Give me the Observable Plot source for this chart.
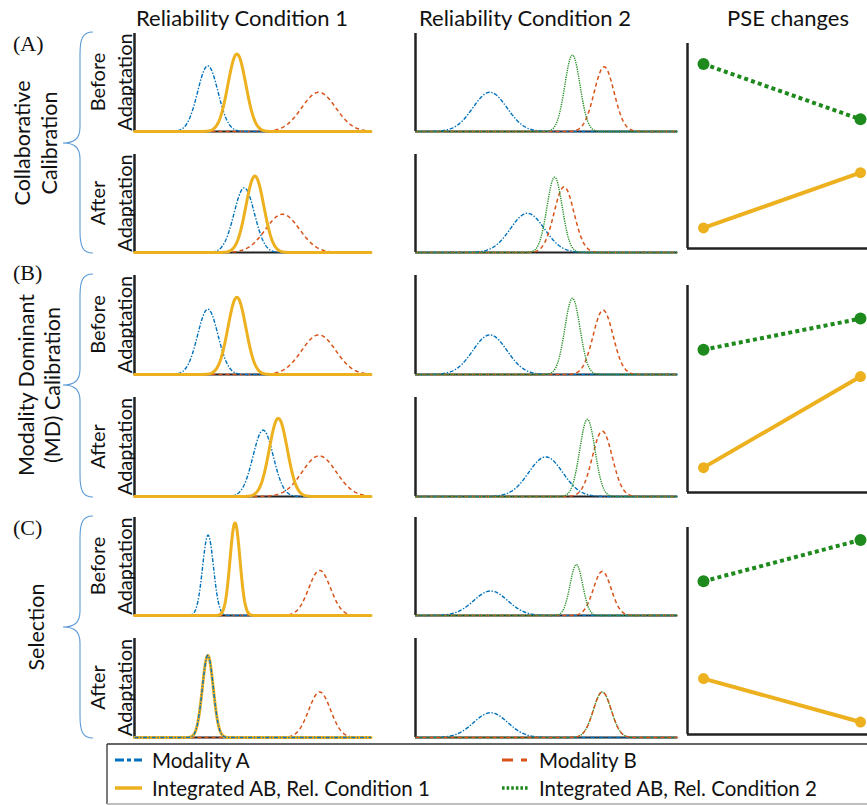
<!DOCTYPE html>
<html>
<head>
<meta charset="utf-8">
<script src="https://cdn.jsdelivr.net/npm/d3@7"></script>
<script src="https://cdn.jsdelivr.net/npm/@observablehq/plot@0.6"></script>
<style>
  html, body { margin: 0; padding: 0; background: #fff; }
  #fig { position: relative; width: 867px; height: 805px; overflow: hidden; background: #fff; }
  #fig svg { position: absolute; }
</style>
</head>
<body>
<div id="fig"></div>
<script>
// ---------------- DATA ----------------
// Panel rows: (A) before, (A) after, (B) before, (B) after, (C) before, (C) after
const panelRows = ["A-before", "A-after", "B-before", "B-after", "C-before", "C-after"];

// Reliability Condition 1 (x in % of panel width, peak in fraction of panel height)
const rc1ModA_mu   = [31.0, 46.4, 31.0, 54.4, 31.1, 31.0];
const rc1ModA_sd   = [4.3, 4.3, 4.3, 4.3, 2.3, 2.3];
const rc1ModA_peak = [0.67, 0.66, 0.66, 0.67, 0.82, 0.83];
const rc1ModB_mu   = [77.9, 62.6, 77.9, 78.1, 78.3, 78.3];
const rc1ModB_sd   = [7.2, 7.2, 7.2, 7.2, 4.6, 4.6];
const rc1ModB_peak = [0.40, 0.39, 0.40, 0.41, 0.46, 0.46];
const rc1Int_mu    = [43.3, 50.9, 43.3, 60.8, 42.5, 31.0];
const rc1Int_sd    = [3.8, 3.8, 3.8, 3.8, 2.1, 2.3];
const rc1Int_peak  = [0.79, 0.78, 0.78, 0.79, 0.945, 0.83];

// Reliability Condition 2
const rc2ModA_mu   = [28.4, 42.7, 28.4, 49.7, 28.7, 28.7];
const rc2ModA_sd   = [6.5, 6.5, 6.5, 6.5, 6.5, 6.5];
const rc2ModA_peak = [0.40, 0.40, 0.40, 0.40, 0.25, 0.25];
const rc2ModB_mu   = [72.0, 56.7, 71.6, 71.3, 71.3, 71.3];
const rc2ModB_sd   = [3.8, 3.8, 3.8, 3.8, 3.4, 3.4];
const rc2ModB_peak = [0.66, 0.67, 0.65, 0.66, 0.45, 0.46];
const rc2Int_mu    = [59.9, 53.1, 59.9, 65.6, 61.4, 71.3];
const rc2Int_sd    = [2.9, 2.9, 2.9, 2.9, 2.4, 3.4];
const rc2Int_peak  = [0.78, 0.77, 0.77, 0.78, 0.52, 0.46];

// PSE changes, panels (A), (B), (C): value before / after (fraction of axis height)
const pseGroups     = ["A", "B", "C"];
const pseStages     = ["Before", "After"];
const pseRC1_before = [0.10, 0.12, 0.27];
const pseRC1_after  = [0.37, 0.56, 0.06];
const pseRC2_before = [0.90, 0.69, 0.74];
const pseRC2_after  = [0.63, 0.84, 0.94];

// Text
const columnTitles = ["Reliability Condition 1", "Reliability Condition 2", "PSE changes"];
const groupLetters = ["(A)", "(B)", "(C)"];
const groupNames   = [["Collaborative", "Calibration"], ["Modality Dominant", "(MD) Calibration"], ["Selection"]];
const stageNames   = ["Before", "After"];
const legendLabels = ["Modality A", "Modality B", "Integrated AB, Rel. Condition 1", "Integrated AB, Rel. Condition 2"];

// ---------------- STYLE / LAYOUT ----------------
const C_A = "#0072BD", C_B = "#D95319", C_I1 = "#EDB120", C_I2 = "#1E8A1E", C_AX = "#222";
const butt = {strokeLinecap: "butt", strokeLinejoin: "round"};
const styleA  = {stroke: C_A, strokeWidth: 1.4, strokeDasharray: "4,1.6,1.4,1.6", ...butt};
const styleB  = {stroke: C_B, strokeWidth: 1.5, strokeDasharray: "4,3", ...butt};
const styleI1 = {stroke: C_I1, strokeWidth: 3};
const styleI2 = {stroke: "#2A922A", strokeWidth: 1.4, strokeDasharray: "1.3,1", ...butt};

const panelTops    = [33, 154, 275, 397, 517, 638];
const panelBottoms = [131, 252, 374, 496, 615, 737];
const col1 = {axis: 133.5, right: 370, tick: true};
const col2 = {axis: 415, right: 677, tick: false};
const pseCol = {axis: 687, x0: 703, x1: 860};
const pseTops = [43, 285, 527], pseBottoms = [248, 492, 734];

const fig = document.getElementById("fig");

function curve(mu, sd, peak) {
  return d3.range(0, 100.001, 0.25).map(x => ({x, y: peak * Math.exp(-((x - mu) ** 2) / (2 * sd * sd))}));
}

function gaussPanel(col, i, curves) {
  const mt = 3, mb = 3, ml = 6, mr = 1;
  const h = panelBottoms[i] - panelTops[i];
  const w = col.right - col.axis;
  const unit = w / 100;
  const marks = [
    Plot.ruleY([{y: 0, x1: 0, x2: 100}], {y: "y", x1: "x1", x2: "x2", stroke: C_AX, strokeWidth: 2}),
    Plot.ruleX([{x: 0, y1: 0, y2: 1}], {x: "x", y1: "y1", y2: "y2", stroke: C_AX, strokeWidth: 2.5})
  ];
  if (col.tick) marks.push(Plot.ruleY([{y: 0.43, x1: -5 / unit, x2: 0}], {y: "y", x1: "x1", x2: "x2", stroke: C_AX, strokeWidth: 1.2}));
  for (const c of curves) marks.push(Plot.line(curve(c.mu, c.sd, c.peak), {x: "x", y: "y", ...c.style}));
  const svg = Plot.plot({
    width: ml + w + mr, height: mt + h + mb,
    marginLeft: ml, marginRight: mr, marginTop: mt, marginBottom: mb,
    x: {domain: [0, 100], axis: null},
    y: {domain: [0, 1], axis: null},
    style: {background: "transparent", overflow: "visible"},
    marks
  });
  svg.style.left = (col.axis - ml) + "px";
  svg.style.top = (panelTops[i] - mt) + "px";
  fig.appendChild(svg);
}

for (let i = 0; i < panelRows.length; i++) {
  const a = {mu: rc1ModA_mu[i], sd: rc1ModA_sd[i], peak: rc1ModA_peak[i], style: styleA};
  const b = {mu: rc1ModB_mu[i], sd: rc1ModB_sd[i], peak: rc1ModB_peak[i], style: styleB};
  const n = {mu: rc1Int_mu[i], sd: rc1Int_sd[i], peak: rc1Int_peak[i], style: styleI1};
  gaussPanel(col1, i, n.mu === a.mu ? [b, n, a] : [b, a, n]);

  const a2 = {mu: rc2ModA_mu[i], sd: rc2ModA_sd[i], peak: rc2ModA_peak[i], style: styleA};
  const b2 = {mu: rc2ModB_mu[i], sd: rc2ModB_sd[i], peak: rc2ModB_peak[i], style: styleB};
  const n2 = {mu: rc2Int_mu[i], sd: rc2Int_sd[i], peak: rc2Int_peak[i], style: styleI2};
  gaussPanel(col2, i, n2.mu === b2.mu ? [a2, n2, b2] : [a2, b2, n2]);
}

// PSE panels
for (let g = 0; g < pseGroups.length; g++) {
  const mt = 8, mb = 3, ml = 4;
  const h = pseBottoms[g] - pseTops[g];
  const span = pseCol.x1 - pseCol.x0;
  const xmin = (pseCol.axis - pseCol.x0) / span;
  const xmax = 1.06;
  const w = (xmax - xmin) * span;
  const rc1 = pseStages.map((s, k) => ({s: k, v: k === 0 ? pseRC1_before[g] : pseRC1_after[g]}));
  const rc2 = pseStages.map((s, k) => ({s: k, v: k === 0 ? pseRC2_before[g] : pseRC2_after[g]}));
  const svg = Plot.plot({
    width: ml + w, height: mt + h + mb,
    marginLeft: ml, marginRight: 0, marginTop: mt, marginBottom: mb,
    x: {domain: [xmin, xmax], axis: null},
    y: {domain: [0, 1], axis: null},
    style: {background: "transparent", overflow: "visible"},
    marks: [
      Plot.ruleY([{y: 0, x1: xmin, x2: xmax}], {y: "y", x1: "x1", x2: "x2", stroke: C_AX, strokeWidth: 2.5}),
      Plot.ruleX([{x: xmin, y1: 0, y2: 1}], {x: "x", y1: "y1", y2: "y2", stroke: C_AX, strokeWidth: 2.5}),
      Plot.line(rc1, {x: "s", y: "v", stroke: C_I1, strokeWidth: 4}),
      Plot.line(rc2, {x: "s", y: "v", stroke: C_I2, strokeWidth: 4, strokeDasharray: "4,3.2", strokeLinecap: "butt"}),
      Plot.dot(rc1, {x: "s", y: "v", r: 5.5, fill: C_I1}),
      Plot.dot(rc2, {x: "s", y: "v", r: 6, fill: C_I2})
    ]
  });
  svg.style.left = (pseCol.axis - ml) + "px";
  svg.style.top = (pseTops[g] - mt) + "px";
  fig.appendChild(svg);
}

// ---------------- ANNOTATION OVERLAY ----------------
const ov = d3.create("svg").attr("width", 867).attr("height", 805)
  .style("left", "0px").style("top", "0px").style("pointer-events", "none");
const sans = "Lato, 'Open Sans', sans-serif";

[242, 525, 788].forEach((x, k) => {
  ov.append("text").attr("x", x).attr("y", 26).attr("text-anchor", "middle")
    .attr("font-family", sans).attr("font-size", 22).attr("fill", "#111").text(columnTitles[k]);
});

const letterY = [43, 272, 527];
groupLetters.forEach((t, k) => {
  ov.append("text").attr("x", 13).attr("y", letterY[k]).attr("dominant-baseline", "central")
    .attr("font-family", "'Liberation Serif', 'DejaVu Serif', serif").attr("font-size", 22).attr("fill", "#111").text(t);
});

const groupCenters = [143, 385, 627];
const groupX = [[22, 49], [26, 52], [36]];
groupNames.forEach((lines, k) => {
  lines.forEach((t, j) => {
    const x = groupX[k][j], y = groupCenters[k];
    ov.append("text").attr("transform", `translate(${x},${y}) rotate(-90)`)
      .attr("text-anchor", "middle").attr("dominant-baseline", "central")
      .attr("font-family", sans).attr("font-size", 21.5).attr("fill", "#111").text(t);
  });
  // brace
  const top = panelTops[2 * k] - 1, bot = panelBottoms[2 * k + 1] + 1, tip = groupCenters[k];
  const xr = 93, xm = 80, xt = 63;
  const p = `M${xr},${top} C${xm + 3},${top} ${xm},${top + 6} ${xm},${top + 22} L${xm},${tip - 16} C${xm},${tip - 4} ${xm - 6},${tip} ${xt},${tip} C${xm - 6},${tip} ${xm},${tip + 4} ${xm},${tip + 16} L${xm},${bot - 22} C${xm},${bot - 6} ${xm + 3},${bot} ${xr},${bot}`;
  ov.append("path").attr("d", p).attr("fill", "none").attr("stroke", "#5B9BD5").attr("stroke-width", 1.1);
});

for (let i = 0; i < panelRows.length; i++) {
  const y = (panelTops[i] + panelBottoms[i]) / 2;
  const st = stageNames[i % 2];
  ov.append("text").attr("transform", `translate(97,${y}) rotate(-90)`)
    .attr("text-anchor", "middle").attr("dominant-baseline", "central")
    .attr("font-family", sans).attr("font-size", 20).attr("fill", "#111").text(st);
  ov.append("text").attr("transform", `translate(124,${y}) rotate(-90)`)
    .attr("text-anchor", "middle").attr("dominant-baseline", "central")
    .attr("font-family", sans).attr("font-size", 20).attr("fill", "#111").text("Adaptation");
}

// Legend box
ov.append("line").attr("x1", 107).attr("x2", 867).attr("y1", 744).attr("y2", 744).attr("stroke", "#333").attr("stroke-width", 1.3);
ov.append("line").attr("x1", 107).attr("x2", 107).attr("y1", 744).attr("y2", 804).attr("stroke", "#333").attr("stroke-width", 1.3);
ov.append("line").attr("x1", 107).attr("x2", 867).attr("y1", 804).attr("y2", 804).attr("stroke", "#aaa").attr("stroke-width", 1.3);

const legendItems = [
  {x: 115, y: 760, label: legendLabels[0], stroke: C_A, w: 3, dash: "9,3,4,3,4,0"},
  {x: 502, y: 760, label: legendLabels[1], stroke: C_B, w: 3, dash: "11,8,6"},
  {x: 115, y: 788, label: legendLabels[2], stroke: C_I1, w: 3.5, dash: null},
  {x: 502, y: 788, label: legendLabels[3], stroke: C_I2, w: 3.5, dash: "2.6,2"}
];
legendItems.forEach(d => {
  const l = ov.append("line").attr("x1", d.x).attr("x2", d.x + 27).attr("y1", d.y).attr("y2", d.y)
    .attr("stroke", d.stroke).attr("stroke-width", d.w);
  if (d.dash) l.attr("stroke-dasharray", d.dash);
  ov.append("text").attr("x", d.x + 37).attr("y", d.y).attr("dominant-baseline", "central")
    .attr("font-family", sans).attr("font-size", 20.5).attr("fill", "#111").text(d.label);
});

fig.appendChild(ov.node());
</script>
</body>
</html>
